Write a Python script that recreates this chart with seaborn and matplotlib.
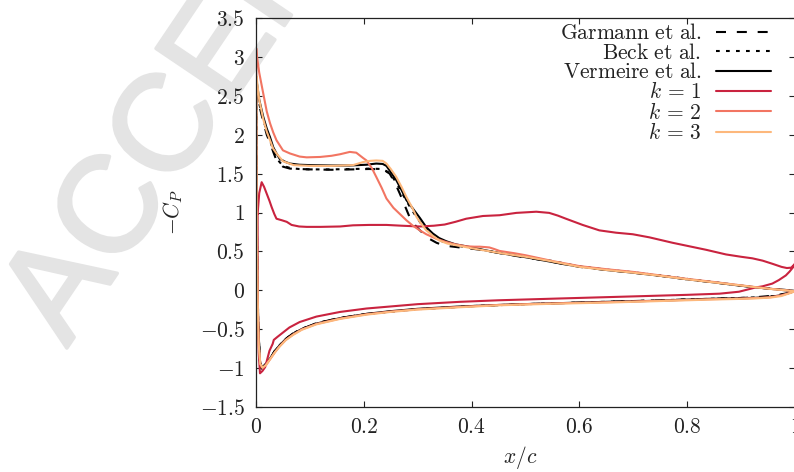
import numpy as np
import pandas as pd
import matplotlib
matplotlib.use("Agg")
import matplotlib.pyplot as plt
import matplotlib.patheffects as pe
import seaborn as sns

# ---------------- data (closed C_P loops: upper surface LE->TE, lower TE->LE) ----------------
garmann_x = [0.001, 0.006, 0.0135, 0.02, 0.026, 0.032, 0.038, 0.05, 0.063, 0.08,
             0.1, 0.14, 0.18, 0.21, 0.236, 0.248, 0.258, 0.267, 0.276, 0.285,
             0.297, 0.31, 0.322, 0.335, 0.347, 0.36, 0.378, 0.40, 0.421, 0.45,
             0.483, 0.52, 0.55, 0.6, 0.65, 0.7, 0.75, 0.8, 0.85, 0.9,
             0.93, 0.96, 0.98, 1.0,
             0.985, 0.965, 0.945, 0.92, 0.88, 0.8, 0.7, 0.6, 0.5, 0.4,
             0.3, 0.25, 0.2, 0.15, 0.11, 0.085, 0.068, 0.055, 0.044, 0.035,
             0.026, 0.018, 0.011, 0.007, 0.004, 0.002, 0.001, 0.0005, 0.001]
garmann_cp = [2.6, 2.38, 2.17, 2.0, 1.9, 1.78, 1.67, 1.59, 1.565, 1.56,
              1.555, 1.55, 1.555, 1.56, 1.555, 1.5, 1.38, 1.24, 1.09, 0.94,
              0.82, 0.73, 0.66, 0.61, 0.58, 0.565, 0.55, 0.535, 0.515, 0.48,
              0.44, 0.40, 0.365, 0.30, 0.26, 0.225, 0.185, 0.14, 0.10, 0.058,
              0.035, 0.012, 0.0, -0.01,
              -0.04, -0.065, -0.08, -0.095, -0.105, -0.12, -0.14, -0.16, -0.18, -0.205,
              -0.245, -0.275, -0.31, -0.365, -0.43, -0.5, -0.56, -0.63, -0.71, -0.79,
              -0.88, -0.95, -1.0, -0.9, -0.4, 0.5, 1.5, 2.2, 2.6]

beck_x = [0.001, 0.006, 0.0135, 0.02, 0.026, 0.032, 0.04, 0.05, 0.065, 0.08,
          0.1, 0.14, 0.18, 0.21, 0.235, 0.245, 0.255, 0.265, 0.275, 0.285,
          0.295, 0.305, 0.318, 0.33, 0.345, 0.36, 0.38, 0.40, 0.43, 0.46,
          0.5, 0.55, 0.6, 0.65, 0.7, 0.75, 0.8, 0.85, 0.9, 0.94,
          0.97, 1.0,
          0.97, 0.94, 0.9, 0.8, 0.7, 0.6, 0.5, 0.4, 0.3, 0.2,
          0.15, 0.11, 0.08, 0.06, 0.045, 0.035, 0.026, 0.018, 0.011, 0.007,
          0.004, 0.002, 0.001]
beck_cp = [2.65, 2.4, 2.2, 2.04, 1.93, 1.8, 1.68, 1.6, 1.57, 1.56,
           1.555, 1.555, 1.56, 1.565, 1.56, 1.52, 1.44, 1.33, 1.2, 1.08,
           0.97, 0.87, 0.77, 0.69, 0.63, 0.595, 0.565, 0.54, 0.505, 0.47,
           0.43, 0.375, 0.305, 0.265, 0.23, 0.19, 0.145, 0.102, 0.06, 0.03,
           0.01, -0.01,
           -0.07, -0.09, -0.1, -0.12, -0.14, -0.16, -0.18, -0.205, -0.245, -0.31,
           -0.365, -0.43, -0.51, -0.6, -0.7, -0.78, -0.88, -0.95, -1.0, -0.9,
           -0.4, 0.6, 2.65]

vermeire_x = [0.001, 0.006, 0.0135, 0.02, 0.026, 0.032, 0.038, 0.044, 0.055, 0.063,
              0.08, 0.1, 0.14, 0.174, 0.205, 0.223, 0.235, 0.242, 0.25, 0.26,
              0.27, 0.279, 0.29, 0.304, 0.316, 0.328, 0.34, 0.353, 0.37, 0.39,
              0.421, 0.45, 0.483, 0.52, 0.544, 0.575, 0.606, 0.65, 0.7, 0.75,
              0.8, 0.85, 0.896, 0.93, 0.958, 0.98, 1.0,
              0.985, 0.97, 0.95, 0.927, 0.9, 0.835, 0.75, 0.65, 0.563, 0.47,
              0.378, 0.3, 0.25, 0.205, 0.156, 0.112, 0.085, 0.069, 0.055, 0.044,
              0.035, 0.026, 0.018, 0.0105, 0.007, 0.004, 0.002, 0.001, 0.0005, 0.001]
vermeire_cp = [2.7, 2.45, 2.23, 2.08, 1.97, 1.84, 1.76, 1.69, 1.65, 1.63,
               1.615, 1.61, 1.605, 1.605, 1.615, 1.63, 1.625, 1.6, 1.52, 1.42,
               1.29, 1.16, 1.06, 0.93, 0.81, 0.73, 0.67, 0.63, 0.59, 0.565,
               0.52, 0.48, 0.445, 0.40, 0.37, 0.33, 0.30, 0.26, 0.225, 0.185,
               0.14, 0.10, 0.06, 0.035, 0.015, 0.005, -0.01,
               -0.045, -0.07, -0.088, -0.098, -0.104, -0.112, -0.135, -0.15, -0.167, -0.185,
               -0.21, -0.24, -0.27, -0.305, -0.36, -0.43, -0.5, -0.56, -0.63, -0.71,
               -0.78, -0.88, -0.95, -1.01, -0.9, -0.4, 0.5, 1.5, 2.3, 2.7]

k1_x = [0.003, 0.006, 0.0105, 0.015, 0.02, 0.025, 0.029, 0.034, 0.038, 0.043,
        0.048, 0.057, 0.066, 0.08, 0.094, 0.12, 0.156, 0.18, 0.21, 0.242,
        0.27, 0.304, 0.33, 0.35, 0.37, 0.39, 0.421, 0.452, 0.483, 0.52,
        0.544, 0.56, 0.575, 0.606, 0.637, 0.668, 0.699, 0.73, 0.773, 0.835,
        0.872, 0.9, 0.921, 0.94, 0.958, 0.975, 0.985, 0.993, 1.0,
        0.997, 0.99, 0.983, 0.97, 0.958, 0.94, 0.927, 0.896, 0.86, 0.8,
        0.7, 0.563, 0.45, 0.378, 0.3, 0.205, 0.156, 0.112, 0.081, 0.062,
        0.051, 0.04, 0.033, 0.031, 0.025, 0.017, 0.012, 0.0074, 0.005, 0.003, 0.003]
k1_cp = [0.98, 1.25, 1.39, 1.33, 1.24, 1.15, 1.07, 0.98, 0.92, 0.91,
         0.90, 0.88, 0.84, 0.82, 0.815, 0.815, 0.82, 0.835, 0.84, 0.84,
         0.83, 0.82, 0.83, 0.845, 0.88, 0.92, 0.955, 0.965, 0.995, 1.01,
         0.995, 0.96, 0.92, 0.84, 0.77, 0.74, 0.72, 0.68, 0.61, 0.52,
         0.46, 0.43, 0.41, 0.38, 0.34, 0.30, 0.285, 0.29, 0.34,
         0.3, 0.24, 0.19, 0.13, 0.085, 0.05, 0.035, -0.02, -0.045, -0.06,
         -0.08, -0.107, -0.13, -0.15, -0.18, -0.236, -0.28, -0.34, -0.41, -0.48,
         -0.54, -0.6, -0.64, -0.69, -0.78, -0.99, -1.04, -1.07, -0.8, 0.0, 0.98]

k2_x = [0.0005, 0.001, 0.006, 0.0135, 0.02, 0.026, 0.032, 0.038, 0.05, 0.063,
        0.081, 0.094, 0.119, 0.14, 0.156, 0.174, 0.186, 0.199, 0.205, 0.215,
        0.223, 0.233, 0.242, 0.255, 0.267, 0.279, 0.291, 0.304, 0.316, 0.335,
        0.353, 0.37, 0.39, 0.405, 0.415, 0.425, 0.433, 0.442, 0.452, 0.48,
        0.5, 0.55, 0.6, 0.65, 0.7, 0.75, 0.8, 0.85, 0.9, 0.93,
        0.96, 0.98, 1.0,
        0.99, 0.975, 0.955, 0.93, 0.9, 0.85, 0.75, 0.65, 0.55, 0.45,
        0.378, 0.3, 0.25, 0.205, 0.156, 0.112, 0.085, 0.069, 0.055, 0.044,
        0.035, 0.026, 0.019, 0.012, 0.008, 0.005, 0.003, 0.0015, 0.0008, 0.0005]
k2_cp = [3.11, 3.05, 2.8, 2.53, 2.3, 2.15, 2.03, 1.93, 1.8, 1.76,
         1.72, 1.71, 1.715, 1.73, 1.75, 1.78, 1.77, 1.70, 1.67, 1.57,
         1.46, 1.32, 1.18, 1.06, 0.98, 0.90, 0.83, 0.77, 0.72, 0.66,
         0.62, 0.59, 0.565, 0.56, 0.56, 0.555, 0.55, 0.53, 0.505, 0.475,
         0.45, 0.375, 0.31, 0.27, 0.235, 0.19, 0.145, 0.105, 0.062, 0.037,
         0.014, 0.002, -0.013,
         -0.035, -0.065, -0.09, -0.1, -0.108, -0.115, -0.135, -0.155, -0.17, -0.19,
         -0.215, -0.245, -0.275, -0.31, -0.365, -0.435, -0.505, -0.57, -0.64, -0.72,
         -0.8, -0.89, -0.96, -1.0, -0.95, -0.7, -0.1, 0.9, 2.0, 3.11]

k3_x = [0.001, 0.006, 0.0135, 0.02, 0.026, 0.032, 0.038, 0.05, 0.07, 0.1,
        0.14, 0.18, 0.199, 0.212, 0.223, 0.235, 0.242, 0.25, 0.26, 0.27,
        0.279, 0.29, 0.298, 0.307, 0.316, 0.328, 0.34, 0.355, 0.378, 0.40,
        0.43, 0.46, 0.5, 0.55, 0.6, 0.65, 0.7, 0.75, 0.8, 0.85,
        0.9, 0.93, 0.96, 0.98, 1.0,
        0.99, 0.975, 0.955, 0.93, 0.9, 0.85, 0.75, 0.65, 0.55, 0.45,
        0.378, 0.3, 0.25, 0.205, 0.156, 0.112, 0.085, 0.069, 0.055, 0.044,
        0.035, 0.026, 0.019, 0.012, 0.008, 0.005, 0.003, 0.0015, 0.0008, 0.001]
k3_cp = [2.75, 2.45, 2.2, 2.04, 1.93, 1.82, 1.76, 1.66, 1.61, 1.6,
         1.6, 1.61, 1.65, 1.665, 1.67, 1.665, 1.63, 1.56, 1.46, 1.33,
         1.2, 1.06, 0.94, 0.85, 0.77, 0.7, 0.64, 0.6, 0.57, 0.54,
         0.505, 0.47, 0.43, 0.37, 0.30, 0.26, 0.225, 0.185, 0.14, 0.10,
         0.06, 0.035, 0.012, 0.0, -0.015,
         -0.04, -0.075, -0.095, -0.105, -0.112, -0.12, -0.14, -0.16, -0.175, -0.195,
         -0.22, -0.25, -0.28, -0.315, -0.37, -0.44, -0.51, -0.575, -0.645, -0.725,
         -0.8, -0.89, -0.96, -1.0, -0.95, -0.7, -0.1, 0.8, 1.9, 2.75]

series_labels = [r"$\mathrm{Garmann\ et\ al.}$", r"$\mathrm{Beck\ et\ al.}$",
                 r"$\mathrm{Vermeire\ et\ al.}$",
                 r"$k\,=\,1$", r"$k\,=\,2$", r"$k\,=\,3$"]
x_ticks = [0, 0.2, 0.4, 0.6, 0.8, 1.0]
x_tick_labels = ["$0$", "$0.2$", "$0.4$", "$0.6$", "$0.8$", "$1$"]
y_ticks = [-1.5, -1, -0.5, 0, 0.5, 1, 1.5, 2, 2.5, 3, 3.5]
y_tick_labels = ["$-1.5$", "$-1$", "$-0.5$", "$0$", "$0.5$", "$1$",
                 "$1.5$", "$2$", "$2.5$", "$3$", "$3.5$"]

# ---------------- style ----------------
sns.set_theme(style="ticks")
plt.rcParams["font.family"] = ["serif"]
plt.rcParams["font.serif"] = ["cmr10", "DejaVu Serif"]
plt.rcParams["mathtext.fontset"] = "cm"
plt.rcParams["axes.formatter.use_mathtext"] = True
plt.rcParams["axes.unicode_minus"] = True

FS = 15.5
fig = plt.figure(figsize=(7.94, 4.72), dpi=100)

# journal watermark (behind everything)
WM = "#e4e4e4"
fig.text(0.084, 0.262, "ACCEPTED MANUSCRIPT", rotation=56, rotation_mode="anchor",
         ha="left", va="baseline", fontsize=98, color=WM,
         family=["Liberation Sans", "DejaVu Sans"], zorder=-5,
         path_effects=[pe.Stroke(linewidth=2.5, foreground=WM), pe.Normal()])

ax = fig.add_axes([256 / 794, 65.3 / 472, 539 / 794, 388.4 / 472])
ax.patch.set_alpha(0)

styles = [
    (garmann_x, garmann_cp, "black", (0, (4.8, 5.2))),
    (beck_x, beck_cp, "black", (0, (1.8, 3.0))),
    (vermeire_x, vermeire_cp, "black", "-"),
    (k1_x, k1_cp, "#c9233f", "-"),
    (k2_x, k2_cp, "#f27562", "-"),
    (k3_x, k3_cp, "#fdb87c", "-"),
]
for label, (xs, cps, col, ls) in zip(series_labels, styles):
    df = pd.DataFrame({"x": xs, "cp": cps})
    sns.lineplot(data=df, x="x", y="cp", sort=False, estimator=None, ax=ax,
                 color=col, linestyle=ls, linewidth=1.5, label=label)

ax.set_xlim(0, 1)
ax.set_ylim(-1.5, 3.5)
ax.set_xticks(x_ticks)
ax.set_xticklabels(x_tick_labels)
ax.set_yticks(y_ticks)
ax.set_yticklabels(y_tick_labels)
ax.tick_params(direction="in", length=4, width=0.8, top=True, right=True,
               labelsize=FS, pad=8, colors="#222222")
for sp in ax.spines.values():
    sp.set_linewidth(0.9)
    sp.set_color("#222222")

ax.set_xlabel("$x/c$", fontsize=FS, color="#222222")
ax.set_ylabel("$-C_P$", fontsize=FS, color="#222222")
ax.xaxis.set_label_coords(0.49, -0.097)
ax.yaxis.set_label_coords(-0.132, 0.5)

leg = ax.legend(loc="upper right", bbox_to_anchor=(0.9564, 0.987), frameon=False,
                markerfirst=False, fontsize=FS, handlelength=2.6,
                handletextpad=0.65, labelspacing=-0.03, borderpad=0,
                borderaxespad=0)
for t in leg.get_texts():
    t.set_color("#222222")

fig.savefig("out.png", dpi=100)
